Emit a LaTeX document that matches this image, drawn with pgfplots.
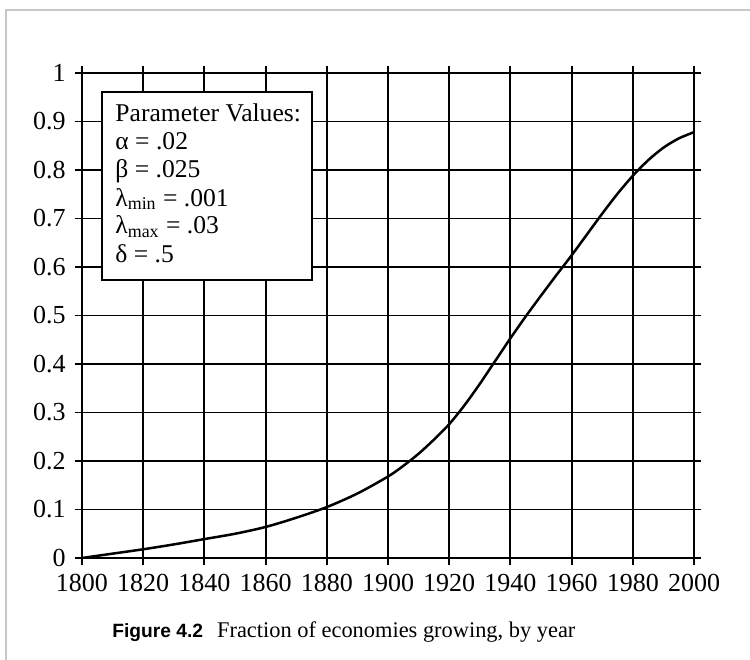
\documentclass[border=0pt]{standalone}
\usepackage{fontspec}
\setmainfont{Liberation Serif}
\newfontfamily\capsans{Liberation Sans}
\usepackage{pgfplots}
\pgfplotsset{compat=1.18}
\begin{document}
\begin{tikzpicture}
\useasboundingbox (0,0) rectangle (375pt,329.5pt);
\fill[white] (0,0) rectangle (375pt,329.5pt);
\draw[color=black!22, line width=0.6pt] (3pt,-2pt) -- (3pt,324.5pt) -- (380pt,324.5pt);
\begin{axis}[
  scale only axis,
  width=306pt, height=242.5pt,
  at={(41pt,50.5pt)}, anchor=south west,
  xmin=1800, xmax=2000, ymin=0, ymax=1,
  xtick={1800,1820,1840,1860,1880,1900,1920,1940,1960,1980,2000},
  xticklabels={1800,1820,1840,1860,1880,1900,1920,1940,1960,1980,2000},
  ytick={0,0.1,0.2,0.3,0.4,0.5,0.6,0.7,0.8,0.9,1},
  yticklabels={0,0.1,0.2,0.3,0.4,0.5,0.6,0.7,0.8,0.9,1},
  grid=major,
  grid style={black, line width=0.95pt},
  axis line style={black, line width=0.95pt},
  tick align=outside,
  major tick length=3.5pt,
  tick style={black, line width=0.95pt},
  tick label style={font=\fontsize{13}{15}\selectfont},
  /pgf/number format/assume math mode=true,
  xticklabel style={inner sep=1pt, yshift=-3.5pt},
  yticklabel style={inner sep=1pt, xshift=-3.5pt},
]
\addplot[black, line width=1.25pt, smooth] coordinates {
(1800,0.000) (1810,0.009) (1820,0.018) (1830,0.028) (1840,0.039)
(1850,0.050) (1860,0.064) (1870,0.083) (1880,0.105) (1890,0.133)
(1900,0.168) (1905,0.190) (1910,0.215) (1915,0.244) (1920,0.276)
(1925,0.315) (1930,0.359) (1935,0.406) (1940,0.453) (1945,0.498)
(1950,0.541) (1955,0.583) (1960,0.624) (1965,0.667) (1970,0.710)
(1975,0.751) (1980,0.788) (1985,0.820) (1990,0.846) (1995,0.865)
(2000,0.878)
};
\end{axis}
\filldraw[fill=white, draw=black, line width=0.9pt] (51pt,189.5pt) rectangle (156pt,283.5pt);
\begin{scope}[every node/.style={anchor=base west, inner sep=0pt, font=\fontsize{12.8}{14}\selectfont}]
\node at (57.5pt,268.7pt) {Parameter Values:};
\node at (57.5pt,254.6pt) {α = .02};
\node at (57.5pt,240.5pt) {β = .025};
\node at (57.5pt,226.4pt) {λ\textsubscript{min} = .001};
\node at (57.5pt,212.5pt) {λ\textsubscript{max} = .03};
\node at (57.5pt,198.2pt) {δ = .5};
\end{scope}
\node[anchor=base west, inner sep=0pt] at (56pt,10.5pt)
{{\capsans\bfseries\fontsize{9.6}{11}\selectfont Figure 4.2}\hspace{7pt}{\fontsize{11.2}{13}\selectfont Fraction of economies growing, by year}};
\end{tikzpicture}
\end{document}
